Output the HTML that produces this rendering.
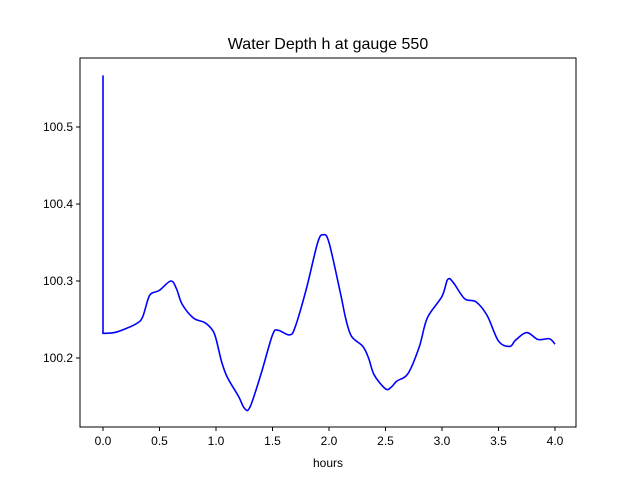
<!DOCTYPE html>
<html><head><meta charset="utf-8"><style>
body{margin:0;background:#fff;font-family:"Liberation Sans","DejaVu Sans",sans-serif;}
</style></head><body>
<svg width="640" height="480" xmlns="http://www.w3.org/2000/svg">
<rect width="640" height="480" fill="#fff"/>
<text x="328" y="49" font-size="16" text-anchor="middle">Water Depth h at gauge 550</text>
<g id="ticks"></g>
<path id="line" fill="none" stroke="#0000ff" stroke-width="1.6"/>
<rect x="80" y="58" width="496" height="369" fill="none" stroke="#000" stroke-width="1"/>
<text x="328" y="467" font-size="12" text-anchor="middle">hours</text>
</svg>
<script>
const hours=[0,0,0.1,0.2,0.3,0.35,0.4,0.43,0.5,0.6,0.65,0.7,0.8,0.9,0.97,1.0,1.05,1.1,1.2,1.25,1.3,1.4,1.5,1.55,1.65,1.7,1.8,1.9,1.95,2.0,2.1,2.15,2.2,2.3,2.35,2.4,2.5,2.55,2.6,2.7,2.8,2.87,3.0,3.05,3.1,3.2,3.3,3.4,3.5,3.6,3.65,3.75,3.85,3.95,4.0];
const depth=[100.567,100.232,100.233,100.238,100.245,100.253,100.277,100.284,100.288,100.300,100.290,100.270,100.252,100.246,100.236,100.225,100.195,100.175,100.150,100.135,100.136,100.180,100.230,100.236,100.230,100.240,100.290,100.350,100.360,100.350,100.285,100.250,100.228,100.215,100.200,100.178,100.160,100.162,100.170,100.180,100.215,100.252,100.280,100.302,100.298,100.277,100.273,100.255,100.222,100.215,100.223,100.233,100.224,100.225,100.218];
const xTicks=[0,0.5,1,1.5,2,2.5,3,3.5,4];
const xTickLabels=["0.0","0.5","1.0","1.5","2.0","2.5","3.0","3.5","4.0"];
const yTicks=[100.2,100.3,100.4,100.5];
const yTickLabels=["100.2","100.3","100.4","100.5"];
const X=h=>103+h*113;
const Y=v=>358-(v-100.2)*770;
const NS="http://www.w3.org/2000/svg";
const g=document.getElementById('ticks');
function mk(t,a){const e=document.createElementNS(NS,t);for(const k in a)e.setAttribute(k,a[k]);g.appendChild(e);return e;}
xTicks.forEach((t,i)=>{
 const l=mk('line',{x1:X(t),x2:X(t),y1:427,y2:431,stroke:'#000'});
 
 
 const tx=mk('text',{x:X(t),y:445,'font-size':12,'text-anchor':'middle'});
 tx.textContent=xTickLabels[i];
 
 
});
yTicks.forEach((t,i)=>{
 const l=mk('line',{x1:76,x2:80,y1:Y(t),y2:Y(t),stroke:'#000'});
 
 
 const tx=mk('text',{x:73,y:Y(t)+4,'font-size':12,'text-anchor':'end'});
 tx.textContent=yTickLabels[i];
 
 
});
const P=hours.map((h,i)=>[X(h),Y(depth[i])]);
let d=`M${P[0][0]},${P[0][1]} L${P[1][0]},${P[1][1]}`;
for(let i=1;i<P.length-1;i++){
 const p0=P[Math.max(1,i-1)],p1=P[i],p2=P[i+1],p3=P[Math.min(P.length-1,i+2)];
 const c1=[p1[0]+(p2[0]-p0[0])/6,p1[1]+(p2[1]-p0[1])/6];
 const c2=[p2[0]-(p3[0]-p1[0])/6,p2[1]-(p3[1]-p1[1])/6];
 d+=` C${c1[0]},${c1[1]} ${c2[0]},${c2[1]} ${p2[0]},${p2[1]}`;
}
document.getElementById('line').setAttribute('d',d);
</script>
</body></html>
